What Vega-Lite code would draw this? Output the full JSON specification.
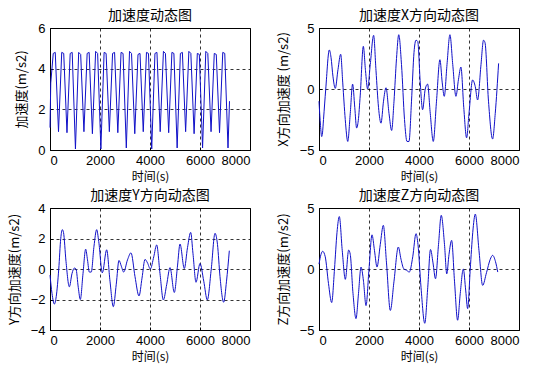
{
  "$schema": "https://vega.github.io/schema/vega-lite/v6.json",
  "padding": {"left": 7, "top": 8, "right": 5, "bottom": 5},
  "background": "white",
  "columns": 2,
  "spacing": {"row": 58, "column": 69},
  "bounds": "flush",
  "datasets": {
    "mag": [
      {"t":0,"a":1.1},{"t":30,"a":3.3},{"t":130,"a":4.75},{"t":210,"a":4.8},{"t":340,"a":0.9},{"t":469,"a":4.8},{"t":549,"a":4.75},{"t":679,"a":0.85},{"t":808,"a":4.75},{"t":888,"a":4.8},{"t":1018,"a":0.05},{"t":1147,"a":4.8},{"t":1227,"a":4.7},{"t":1357,"a":0.9},{"t":1486,"a":4.75},{"t":1566,"a":4.8},{"t":1696,"a":0.8},{"t":1825,"a":4.85},{"t":1905,"a":4.75},{"t":2035,"a":0.05},{"t":2164,"a":4.8},{"t":2244,"a":4.75},{"t":2374,"a":0.9},{"t":2503,"a":4.75},{"t":2583,"a":4.8},{"t":2713,"a":0.85},{"t":2842,"a":4.8},{"t":2922,"a":4.75},{"t":3052,"a":0.1},{"t":3181,"a":4.85},{"t":3261,"a":4.75},{"t":3391,"a":0.8},{"t":3520,"a":4.7},{"t":3600,"a":4.75},{"t":3730,"a":0.9},{"t":3859,"a":4.8},{"t":3939,"a":4.75},{"t":4069,"a":0.05},{"t":4198,"a":4.75},{"t":4278,"a":4.8},{"t":4408,"a":0.9},{"t":4537,"a":4.85},{"t":4617,"a":4.75},{"t":4747,"a":0.85},{"t":4876,"a":4.8},{"t":4956,"a":4.75},{"t":5086,"a":0.1},{"t":5215,"a":4.75},{"t":5295,"a":4.8},{"t":5425,"a":0.9},{"t":5554,"a":4.85},{"t":5634,"a":4.75},{"t":5764,"a":0.8},{"t":5893,"a":4.75},{"t":5973,"a":4.7},{"t":6103,"a":0.1},{"t":6232,"a":4.85},{"t":6312,"a":4.75},{"t":6442,"a":0.9},{"t":6571,"a":4.75},{"t":6651,"a":4.7},{"t":6781,"a":0.85},{"t":6910,"a":4.8},{"t":6990,"a":4.75},{"t":7120,"a":0.1},{"t":7180,"a":2.4}
    ],
    "ax": [
      {"t":0,"a":-1.0},{"t":60,"a":-3.0},{"t":107,"a":-3.9},{"t":140,"a":-3.6},{"t":180,"a":-2.5},{"t":270,"a":0},{"t":413,"a":3.2},{"t":480,"a":2.6},{"t":560,"a":1.0},{"t":650,"a":0.05},{"t":760,"a":1.6},{"t":867,"a":2.85},{"t":950,"a":0.5},{"t":1050,"a":-2.5},{"t":1150,"a":-4.3},{"t":1250,"a":-2.0},{"t":1345,"a":0.4},{"t":1430,"a":-1.5},{"t":1505,"a":-3.2},{"t":1570,"a":-2.6},{"t":1650,"a":-0.5},{"t":1773,"a":3.5},{"t":1860,"a":1.5},{"t":1945,"a":0.0},{"t":2050,"a":2.0},{"t":2185,"a":4.4},{"t":2280,"a":1.5},{"t":2380,"a":-1.5},{"t":2480,"a":-2.8},{"t":2580,"a":-1.0},{"t":2680,"a":0.1},{"t":2800,"a":-2.0},{"t":2905,"a":-3.4},{"t":3000,"a":-1.0},{"t":3100,"a":2.5},{"t":3190,"a":4.45},{"t":3300,"a":2.0},{"t":3420,"a":-2.5},{"t":3520,"a":-4.3},{"t":3600,"a":-4.3},{"t":3700,"a":-1.0},{"t":3800,"a":3.0},{"t":3880,"a":4.0},{"t":3950,"a":3.9},{"t":4050,"a":0.5},{"t":4144,"a":-1.7},{"t":4250,"a":0},{"t":4344,"a":0.4},{"t":4450,"a":-2.0},{"t":4571,"a":-4.3},{"t":4700,"a":-1.0},{"t":4837,"a":2.4},{"t":4930,"a":0.5},{"t":5011,"a":-0.6},{"t":5120,"a":2.0},{"t":5237,"a":4.45},{"t":5350,"a":2.0},{"t":5477,"a":-0.6},{"t":5580,"a":0.8},{"t":5677,"a":1.8},{"t":5790,"a":-1.5},{"t":5904,"a":-4.0},{"t":6000,"a":-2.0},{"t":6144,"a":0.74},{"t":6250,"a":0.2},{"t":6344,"a":-0.9},{"t":6480,"a":2.0},{"t":6580,"a":4.0},{"t":6640,"a":3.8},{"t":6780,"a":-1.0},{"t":6944,"a":-4.1},{"t":7050,"a":-2.0},{"t":7184,"a":2.1}
    ],
    "ay": [
      {"t":0,"a":-0.4},{"t":80,"a":-1.6},{"t":173,"a":-2.3},{"t":250,"a":-1.8},{"t":350,"a":0},{"t":430,"a":2.0},{"t":493,"a":2.58},{"t":540,"a":2.4},{"t":640,"a":0.5},{"t":773,"a":-1.17},{"t":880,"a":-0.3},{"t":973,"a":0.06},{"t":1040,"a":0.0},{"t":1130,"a":-1.2},{"t":1213,"a":-2.0},{"t":1320,"a":-0.3},{"t":1427,"a":1.3},{"t":1500,"a":0.6},{"t":1573,"a":-0.2},{"t":1650,"a":-0.2},{"t":1760,"a":1.5},{"t":1867,"a":2.58},{"t":1950,"a":1.8},{"t":2093,"a":-0.25},{"t":2267,"a":1.26},{"t":2400,"a":-0.8},{"t":2533,"a":-2.47},{"t":2650,"a":-1.0},{"t":2760,"a":0.56},{"t":2850,"a":0.2},{"t":2947,"a":-0.2},{"t":3100,"a":0.6},{"t":3240,"a":1.06},{"t":3400,"a":-0.5},{"t":3560,"a":-1.77},{"t":3680,"a":-0.6},{"t":3800,"a":0.63},{"t":3900,"a":0.4},{"t":4013,"a":0.0},{"t":4150,"a":0.8},{"t":4267,"a":1.58},{"t":4400,"a":-0.3},{"t":4533,"a":-2.03},{"t":4670,"a":-1.0},{"t":4800,"a":0.09},{"t":4973,"a":-1.54},{"t":5100,"a":0.2},{"t":5200,"a":1.64},{"t":5373,"a":0.03},{"t":5500,"a":1.4},{"t":5627,"a":2.4},{"t":5720,"a":1.0},{"t":5840,"a":-0.87},{"t":6000,"a":0.36},{"t":6150,"a":-0.8},{"t":6293,"a":-2.03},{"t":6450,"a":0.0},{"t":6600,"a":2.34},{"t":6700,"a":1.6},{"t":6800,"a":-0.5},{"t":6947,"a":-2.18},{"t":7060,"a":-0.8},{"t":7173,"a":1.2}
    ],
    "az": [
      {"t":0,"a":0.4},{"t":80,"a":1.2},{"t":147,"a":1.45},{"t":250,"a":1.0},{"t":380,"a":-1.2},{"t":507,"a":-2.75},{"t":620,"a":0.0},{"t":720,"a":3.0},{"t":813,"a":4.3},{"t":930,"a":1.5},{"t":1053,"a":-0.85},{"t":1187,"a":1.55},{"t":1250,"a":1.2},{"t":1360,"a":-2.0},{"t":1480,"a":-4.07},{"t":1580,"a":-2.0},{"t":1680,"a":0.16},{"t":1780,"a":-1.0},{"t":1880,"a":-3.0},{"t":2000,"a":0.0},{"t":2120,"a":2.8},{"t":2220,"a":1.5},{"t":2320,"a":0.16},{"t":2450,"a":2.0},{"t":2573,"a":3.58},{"t":2700,"a":0.5},{"t":2853,"a":-3.4},{"t":3000,"a":-1.0},{"t":3173,"a":1.8},{"t":3280,"a":0.8},{"t":3387,"a":0.03},{"t":3500,"a":-0.1},{"t":3613,"a":-0.25},{"t":3750,"a":1.0},{"t":3880,"a":2.9},{"t":3960,"a":2.0},{"t":4080,"a":-1.5},{"t":4230,"a":-4.45},{"t":4350,"a":-1.5},{"t":4460,"a":1.6},{"t":4560,"a":0.5},{"t":4660,"a":-0.8},{"t":4780,"a":2.0},{"t":4890,"a":4.4},{"t":5020,"a":2.0},{"t":5110,"a":-0.4},{"t":5200,"a":1.2},{"t":5305,"a":2.35},{"t":5420,"a":-1.0},{"t":5545,"a":-4.2},{"t":5650,"a":-2.0},{"t":5772,"a":0.0},{"t":5870,"a":-1.8},{"t":5945,"a":-3.25},{"t":6050,"a":0.0},{"t":6150,"a":3.0},{"t":6252,"a":4.5},{"t":6400,"a":1.5},{"t":6545,"a":-1.34},{"t":6700,"a":-0.3},{"t":6850,"a":0.8},{"t":6945,"a":1.12},{"t":7060,"a":0.6},{"t":7150,"a":-0.25}
    ]
  },
  "concat": [
    {
      "width": 200, "height": 122,
      "title": "加速度动态图",
      "data": {"name": "mag"},
      "mark": {"type": "line", "color": "#1010c8", "strokeWidth": 1},
      "encoding": {
        "x": {"field": "t", "type": "quantitative", "scale": {"domain": [0, 8000]}, "axis": {"values": [0, 2000, 4000, 6000, 8000], "format": "d", "title": "时间(s)"}},
        "y": {"field": "a", "type": "quantitative", "scale": {"domain": [0, 6]}, "axis": {"values": [0, 2, 4, 6], "format": "d", "title": "加速度(m/s2)"}}
      }
    },
    {
      "width": 200, "height": 122,
      "title": "加速度X方向动态图",
      "data": {"name": "ax"},
      "mark": {"type": "line", "color": "#1010c8", "strokeWidth": 1, "interpolate": "monotone"},
      "encoding": {
        "x": {"field": "t", "type": "quantitative", "scale": {"domain": [0, 8000]}, "axis": {"values": [0, 2000, 4000, 6000, 8000], "format": "d", "title": "时间(s)"}},
        "y": {"field": "a", "type": "quantitative", "scale": {"domain": [-5, 5]}, "axis": {"values": [-5, 0, 5], "format": "d", "title": "X方向加速度 (m/s2)"}}
      }
    },
    {
      "width": 200, "height": 122,
      "title": "加速度Y方向动态图",
      "data": {"name": "ay"},
      "mark": {"type": "line", "color": "#1010c8", "strokeWidth": 1, "interpolate": "monotone"},
      "encoding": {
        "x": {"field": "t", "type": "quantitative", "scale": {"domain": [0, 8000]}, "axis": {"values": [0, 2000, 4000, 6000, 8000], "format": "d", "title": "时间(s)"}},
        "y": {"field": "a", "type": "quantitative", "scale": {"domain": [-4, 4]}, "axis": {"values": [-4, -2, 0, 2, 4], "format": "d", "title": "Y方向加速度(m/s2)"}}
      }
    },
    {
      "width": 200, "height": 122,
      "title": "加速度Z方向动态图",
      "data": {"name": "az"},
      "mark": {"type": "line", "color": "#1010c8", "strokeWidth": 1, "interpolate": "monotone"},
      "encoding": {
        "x": {"field": "t", "type": "quantitative", "scale": {"domain": [0, 8000]}, "axis": {"values": [0, 2000, 4000, 6000, 8000], "format": "d", "title": "时间(s)"}},
        "y": {"field": "a", "type": "quantitative", "scale": {"domain": [-5, 5]}, "axis": {"values": [-5, 0, 5], "format": "d", "title": "Z方向加速度(m/s2)"}}
      }
    }
  ],
  "config": {
    "font": "Liberation Sans",
    "view": {"stroke": "#000000", "strokeWidth": 1},
    "axis": {
      "domain": false,
      "grid": true,
      "gridColor": "#000000",
      "gridDash": [3, 3],
      "gridOpacity": 1,
      "gridWidth": 0.8,
      "ticks": true,
      "tickColor": "#000000",
      "tickSize": -3,
      "labelFont": "Liberation Sans, Arial, sans-serif",
      "labelFontSize": 13,
      "labelColor": "#000000",
      "titleFont": "Noto Sans CJK SC",
      "titleFontSize": 13,
      "titleFontWeight": "normal",
      "titleColor": "#000000"
    },
    "axisX": {"labelPadding": 7, "titlePadding": 4, "titleFontSize": 12},
    "axisY": {"labelPadding": 8, "titlePadding": 9},
    "title": {"font": "Noto Sans CJK SC", "fontSize": 14, "fontWeight": "normal", "color": "#000000", "offset": -1}
  }
}
